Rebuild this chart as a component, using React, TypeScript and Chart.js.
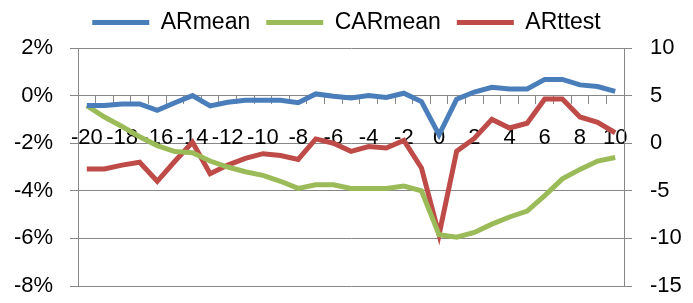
import React, { useEffect, useRef } from "react";
import { Chart, registerables } from "chart.js";

Chart.register(...registerables);

const categories = ["-20","-19","-18","-17","-16","-15","-14","-13","-12","-11","-10","-9","-8","-7","-6","-5","-4","-3","-2","-1","0","1","2","3","4","5","6","7","8","9","10"];

// percent values
const arMean = [-0.42,-0.42,-0.35,-0.35,-0.62,-0.3,0.0,-0.43,-0.28,-0.2,-0.2,-0.2,-0.3,0.07,-0.03,-0.1,0.0,-0.08,0.1,-0.25,-1.65,-0.15,0.15,0.35,0.28,0.28,0.68,0.68,0.45,0.38,0.18];
const carMean = [-0.42,-0.9,-1.3,-1.73,-2.1,-2.35,-2.4,-2.75,-3.0,-3.2,-3.35,-3.6,-3.9,-3.75,-3.75,-3.9,-3.9,-3.9,-3.8,-4.0,-5.85,-5.95,-5.75,-5.4,-5.1,-4.85,-4.2,-3.5,-3.1,-2.75,-2.6];
// t statistic (right axis)
const arTtest = [-2.7,-2.7,-2.3,-2.0,-4.0,-1.9,0.1,-3.2,-2.3,-1.6,-1.1,-1.3,-1.7,0.45,0.0,-0.85,-0.35,-0.5,0.3,-2.6,-9.6,-0.85,0.5,2.5,1.6,2.1,4.65,4.65,2.75,2.2,1.1];

const seriesNames = ["ARmean", "CARmean", "ARttest"];
const seriesColors = ["#4A7EBB", "#9BBB59", "#BE4B48"];

const FONT = "'Liberation Sans', Arial, sans-serif";
const GRID = "#878787";

const legendFit = {
  id: "legendFit",
  beforeInit(chart: any) {
    const lg = chart.legend;
    if (!lg) return;
    const f = lg.fit;
    lg.fit = function () {
      f.call(this);
      this.height += 4;
    };
  },
};

export default function App() {
  const ref = useRef<HTMLCanvasElement | null>(null);
  useEffect(() => {
    if (!ref.current) return;
    const chart = new Chart(ref.current, {
      type: "line",
      data: {
        labels: categories,
        datasets: [
          { label: seriesNames[0], data: arMean, yAxisID: "y", borderColor: seriesColors[0], backgroundColor: seriesColors[0], borderWidth: 5, pointRadius: 0, tension: 0 },
          { label: seriesNames[1], data: carMean, yAxisID: "y", borderColor: seriesColors[1], backgroundColor: seriesColors[1], borderWidth: 5, pointRadius: 0, tension: 0 },
          { label: seriesNames[2], data: arTtest, yAxisID: "y1", borderColor: seriesColors[2], backgroundColor: seriesColors[2], borderWidth: 5, pointRadius: 0, tension: 0 },
        ],
      },
      plugins: [legendFit],
      options: {
        responsive: false,
        animation: false,
        layout: { padding: { top: -5, bottom: 17, left: 0, right: 0 } },
        plugins: {
          tooltip: { enabled: false },
          legend: {
            position: "top",
            align: "center",
            labels: {
              usePointStyle: true,
              pointStyle: "line",
              pointStyleWidth: 57,
              color: "#000",
              padding: 16,
              font: { family: FONT, size: 23 },
            },
          },
        },
        scales: {
          x: {
            type: "category",
            offset: true,
            position: { y: 0 } as any,
            border: { display: true, color: GRID, width: 1 },
            grid: { display: true, drawOnChartArea: false, drawTicks: true, tickLength: 8, offset: true, color: GRID },
            ticks: {
              autoSkip: false,
              maxRotation: 0,
              minRotation: 0,
              padding: 21,
              color: "#000",
              font: { family: FONT, size: 22 },
              callback: (_v: any, i: number) => (i % 2 === 0 ? categories[i] : ""),
            },
            afterFit: (s: any) => { s.height = 0; },
          },
          y: {
            position: "left",
            min: -8,
            max: 2,
            border: { display: true, color: GRID, width: 1 },
            grid: { color: GRID, tickLength: 8 },
            ticks: {
              stepSize: 2,
              padding: 17,
              color: "#000",
              font: { family: FONT, size: 22 },
              callback: (v: any) => `${v}%`,
            },
            afterFit: (s: any) => { s.width = 78; s.paddingBottom = 0; s.paddingTop = 0; },
          },
          y1: {
            position: "right",
            min: -15,
            max: 10,
            border: { display: true, color: GRID, width: 1 },
            grid: { drawOnChartArea: false, color: GRID, tickLength: 8 },
            ticks: {
              stepSize: 5,
              padding: 18,
              color: "#000",
              font: { family: FONT, size: 22 },
            },
            afterFit: (s: any) => { s.width = 69; s.paddingBottom = 0; s.paddingTop = 0; },
          },
        },
      },
    });
    return () => chart.destroy();
  }, []);
  return (
    <div style={{ position: "absolute", left: 0, top: 0, width: 693, height: 303, background: "#fff" }}>
      <canvas ref={ref} width={693} height={303} />
    </div>
  );
}
